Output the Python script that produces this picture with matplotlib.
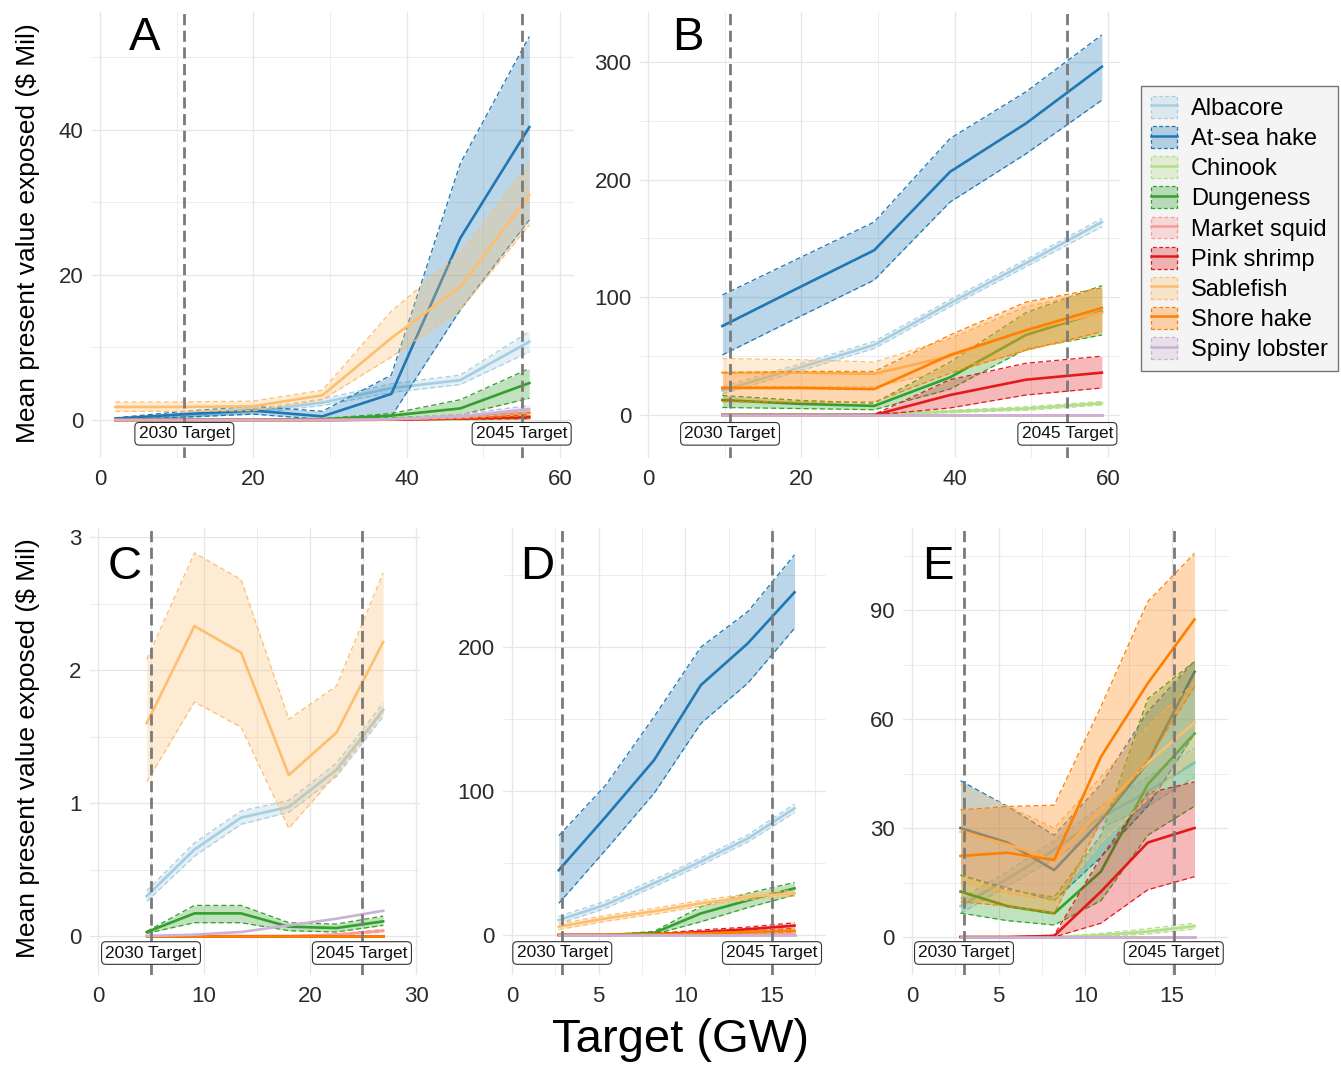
import matplotlib
matplotlib.use("Agg")
import matplotlib.pyplot as plt
from matplotlib.patches import Patch
from matplotlib.lines import Line2D
from matplotlib.colors import to_rgba
import numpy as np

plt.rcParams['font.family'] = ['Liberation Sans', 'DejaVu Sans']

species = ["Albacore", "At-sea hake", "Chinook", "Dungeness", "Market squid",
           "Pink shrimp", "Sablefish", "Shore hake", "Spiny lobster"]
colors = ["#a6cee3", "#1f78b4", "#b2df8a", "#33a02c", "#fb9a99",
          "#e31a1c", "#fdbf6f", "#ff7f00", "#cab2d6"]

# ---------------- Panel A ----------------
xA = [2, 11, 20, 29, 38, 47, 56]
A_mean = {
    "Albacore":     [0.1, 0.5, 1.2, 2.4, 4.4, 5.5, 10.8],
    "At-sea hake":  [0.2, 0.8, 1.3, 0.5, 3.6, 25.1, 40.4],
    "Chinook":      [0, 0, 0, 0, 0.05, 0.1, 0.2],
    "Dungeness":    [0, 0.02, 0.05, 0.1, 0.6, 1.6, 5.1],
    "Market squid": [0, 0, 0, 0, 0.05, 0.2, 0.5],
    "Pink shrimp":  [0, 0, 0, 0, 0.05, 0.2, 0.4],
    "Sablefish":    [1.8, 1.8, 1.9, 3.4, 11.3, 18.4, 31.0],
    "Shore hake":   [0, 0, 0, 0, 0.1, 0.4, 1.0],
    "Spiny lobster":[0, 0, 0, 0, 0.1, 0.5, 1.5],
}
A_upper = {
    "Albacore":     [0.2, 0.7, 1.5, 2.9, 5.0, 6.2, 12.2],
    "At-sea hake":  [0.3, 1.2, 1.9, 1.2, 6.2, 35.4, 52.9],
    "Chinook":      [0, 0, 0, 0, 0.1, 0.2, 0.3],
    "Dungeness":    [0, 0.05, 0.1, 0.2, 0.9, 2.8, 7.1],
    "Market squid": [0, 0, 0, 0, 0.1, 0.3, 0.8],
    "Pink shrimp":  [0, 0, 0, 0, 0.1, 0.3, 0.7],
    "Sablefish":    [2.5, 2.5, 2.6, 4.1, 15.0, 23.0, 35.4],
    "Shore hake":   [0, 0, 0, 0, 0.2, 0.6, 1.4],
    "Spiny lobster":[0, 0, 0, 0, 0.2, 0.8, 2.0],
}
A_lower = {
    "Albacore":     [0.05, 0.3, 0.9, 2.0, 3.8, 4.9, 9.4],
    "At-sea hake":  [0.05, 0.4, 0.8, 0.1, 0.5, 15.2, 27.6],
    "Chinook":      [0, 0, 0, 0, 0, 0.05, 0.1],
    "Dungeness":    [0, 0, 0.02, 0.05, 0.3, 0.7, 3.0],
    "Market squid": [0, 0, 0, 0, 0, 0.1, 0.3],
    "Pink shrimp":  [0, 0, 0, 0, 0, 0.1, 0.2],
    "Sablefish":    [1.2, 1.2, 1.3, 2.8, 8.7, 15.2, 26.9],
    "Shore hake":   [0, 0, 0, 0, 0.05, 0.2, 0.6],
    "Spiny lobster":[0, 0, 0, 0, 0.05, 0.3, 1.0],
}

# ---------------- Panel B ----------------
xB = [9.7, 19.6, 29.5, 39.4, 49.3, 59.2]
B_mean = {
    "Albacore":     [21, 40, 59.5, 95, 129, 164],
    "At-sea hake":  [75.6, 108, 140, 206.7, 247.8, 296],
    "Chinook":      [0.5, 0.5, 0.5, 3, 5.5, 10],
    "Dungeness":    [12.7, 9.5, 7.7, 32, 68, 88],
    "Market squid": [0, 0, 0, 0, 0, 0],
    "Pink shrimp":  [0, 0, 0, 17, 30, 36],
    "Sablefish":    [36, 36, 35, 50, 72, 87],
    "Shore hake":   [23, 23, 22, 51, 72, 91],
    "Spiny lobster":[0, 0, 0, 0, 0, 0],
}
B_upper = {
    "Albacore":     [24, 43, 62.5, 98, 132, 167],
    "At-sea hake":  [102, 133, 164, 235, 274.7, 323],
    "Chinook":      [1, 1, 1, 4, 7, 11.5],
    "Dungeness":    [16.6, 12.5, 10, 45, 87, 110],
    "Market squid": [0, 0, 0, 0, 0, 0],
    "Pink shrimp":  [0, 0, 0.5, 30, 44, 50],
    "Sablefish":    [48, 47, 45, 65, 92, 106],
    "Shore hake":   [36, 37, 37, 68, 96, 108],
    "Spiny lobster":[0, 0, 0, 0, 0, 0],
}
B_lower = {
    "Albacore":     [18, 37, 56.5, 92, 126, 160],
    "At-sea hake":  [51, 83, 114.7, 181, 222, 267.6],
    "Chinook":      [0, 0, 0, 2, 4, 8.5],
    "Dungeness":    [6.4, 5.5, 4.5, 22, 56, 68],
    "Market squid": [0, 0, 0, 0, 0, 0],
    "Pink shrimp":  [0, 0, 0, 6, 17, 23],
    "Sablefish":    [24, 24, 24, 38, 55, 70],
    "Shore hake":   [11.3, 11, 11, 35.6, 55, 70.8],
    "Spiny lobster":[0, 0, 0, 0, 0, 0],
}

# ---------------- Panel C ----------------
xC = [4.6, 9.1, 13.5, 18.0, 22.5, 26.9]
C_mean = {
    "Albacore":     [0.30, 0.65, 0.89, 0.97, 1.25, 1.70],
    "At-sea hake":  [0, 0, 0, 0, 0, 0],
    "Chinook":      [0, 0, 0, 0, 0, 0],
    "Dungeness":    [0.03, 0.17, 0.17, 0.07, 0.06, 0.11],
    "Market squid": [0, 0, 0, 0, 0.01, 0.04],
    "Pink shrimp":  [0, 0, 0, 0, 0, 0],
    "Sablefish":    [1.60, 2.33, 2.13, 1.21, 1.53, 2.21],
    "Shore hake":   [0, 0, 0, 0, 0, 0],
    "Spiny lobster":[0, 0.01, 0.03, 0.08, 0.13, 0.19],
}
C_upper = {
    "Albacore":     [0.34, 0.70, 0.94, 1.02, 1.30, 1.75],
    "At-sea hake":  [0, 0, 0, 0, 0, 0],
    "Chinook":      [0, 0, 0, 0, 0, 0],
    "Dungeness":    [0.035, 0.23, 0.23, 0.10, 0.09, 0.15],
    "Market squid": [0, 0, 0, 0, 0.015, 0.05],
    "Pink shrimp":  [0, 0, 0, 0, 0, 0],
    "Sablefish":    [2.08, 2.88, 2.68, 1.63, 1.88, 2.73],
    "Shore hake":   [0, 0, 0, 0, 0, 0],
    "Spiny lobster":[0, 0.01, 0.03, 0.08, 0.13, 0.19],
}
C_lower = {
    "Albacore":     [0.26, 0.60, 0.84, 0.93, 1.20, 1.65],
    "At-sea hake":  [0, 0, 0, 0, 0, 0],
    "Chinook":      [0, 0, 0, 0, 0, 0],
    "Dungeness":    [0.02, 0.10, 0.10, 0.04, 0.03, 0.08],
    "Market squid": [0, 0, 0, 0, 0.005, 0.03],
    "Pink shrimp":  [0, 0, 0, 0, 0, 0],
    "Sablefish":    [1.16, 1.76, 1.57, 0.81, 1.22, 1.68],
    "Shore hake":   [0, 0, 0, 0, 0, 0],
    "Spiny lobster":[0, 0.01, 0.03, 0.08, 0.13, 0.19],
}

# ---------------- Panel D ----------------
xD = [2.7, 5.4, 8.2, 10.9, 13.6, 16.3]
D_mean = {
    "Albacore":     [10.4, 21, 36, 51, 67, 88],
    "At-sea hake":  [45, 82, 121.5, 173.6, 202.5, 238],
    "Chinook":      [0, 0, 0, 0, 0, 0],
    "Dungeness":    [0, 0, 1.5, 15, 24, 32.4],
    "Market squid": [0, 0, 0, 0, 0.5, 1],
    "Pink shrimp":  [0, 0, 0.5, 2, 4, 6.5],
    "Sablefish":    [5.8, 11.5, 16.5, 22, 26.5, 29],
    "Shore hake":   [0, 0.2, 0.5, 1, 2, 3],
    "Spiny lobster":[0, 0, 0, 0, 0, 0],
}
D_upper = {
    "Albacore":     [12.9, 23.5, 38.5, 53.5, 69.5, 91],
    "At-sea hake":  [69, 104, 151.6, 200, 224.5, 264],
    "Chinook":      [0, 0, 0, 0, 0, 0],
    "Dungeness":    [0, 0, 2.5, 19.7, 29, 36.5],
    "Market squid": [0, 0, 0, 0, 1, 1.5],
    "Pink shrimp":  [0, 0, 1, 3.5, 5.5, 8.5],
    "Sablefish":    [7.8, 13.5, 18.5, 24, 28.5, 31],
    "Shore hake":   [0, 0.4, 0.8, 1.5, 2.7, 4],
    "Spiny lobster":[0, 0, 0, 0, 0, 0],
}
D_lower = {
    "Albacore":     [7.9, 18.5, 33.5, 48.5, 64.5, 85],
    "At-sea hake":  [22, 59, 98.4, 147, 174.8, 213],
    "Chinook":      [0, 0, 0, 0, 0, 0],
    "Dungeness":    [0, 0, 0.5, 9.2, 19, 27.8],
    "Market squid": [0, 0, 0, 0, 0.2, 0.5],
    "Pink shrimp":  [0, 0, 0.2, 1, 2.5, 4.5],
    "Sablefish":    [3.8, 9.5, 14.5, 20, 24.5, 27],
    "Shore hake":   [0, 0.1, 0.3, 0.6, 1.4, 2.2],
    "Spiny lobster":[0, 0, 0, 0, 0, 0],
}

# ---------------- Panel E ----------------
xE = [2.8, 5.5, 8.2, 10.9, 13.6, 16.3]
E_mean = {
    "Albacore":     [8.5, 16, 24, 33, 40, 48],
    "At-sea hake":  [30, 26, 18.4, 32, 48, 73],
    "Chinook":      [0, 0, 0, 0.5, 1.5, 3],
    "Dungeness":    [12.5, 8.5, 6.5, 18, 42, 56],
    "Market squid": [0, 0, 0, 0, 0, 0],
    "Pink shrimp":  [0, 0, 0.3, 12.5, 26, 30],
    "Sablefish":    [29, 25.5, 21, 35, 48, 59],
    "Shore hake":   [22.3, 23.2, 21.2, 49.6, 69.8, 87.4],
    "Spiny lobster":[0, 0, 0, 0, 0, 0],
}
E_upper = {
    "Albacore":     [10.5, 18, 26.5, 36, 44, 52],
    "At-sea hake":  [43, 36, 28, 42, 62, 76],
    "Chinook":      [0, 0, 0, 1, 2.3, 3.8],
    "Dungeness":    [17, 13, 11, 28, 65.6, 75.8],
    "Market squid": [0, 0, 0, 0, 0, 0],
    "Pink shrimp":  [0, 0, 0.5, 22, 39.6, 42.7],
    "Sablefish":    [42, 36, 30, 44, 58, 70],
    "Shore hake":   [35, 35.9, 36.3, 63.4, 92.3, 105.6],
    "Spiny lobster":[0, 0, 0, 0, 0, 0],
}
E_lower = {
    "Albacore":     [6.5, 14, 21.5, 30, 36, 44],
    "At-sea hake":  [17, 13.5, 10, 22, 36, 56],
    "Chinook":      [0, 0, 0, 0.2, 0.8, 2.2],
    "Dungeness":    [6.6, 4.5, 3.3, 10, 28, 36],
    "Market squid": [0, 0, 0, 0, 0, 0],
    "Pink shrimp":  [0, 0, 0, 3.8, 13, 16.6],
    "Sablefish":    [15, 12, 10, 26, 38, 49.6],
    "Shore hake":   [9.7, 8.5, 6.5, 32, 48.7, 68.9],
    "Spiny lobster":[0, 0, 0, 0, 0, 0],
}

# target lines and tick settings
targets = {"A": (11, 55), "B": (10.7, 54.7), "C": (5.0, 24.9), "D": (2.9, 15.0), "E": (3.0, 15.1)}
label_y = {"A": -1.9, "B": -16, "C": -0.128, "D": -12.5, "E": -4.4}
xticks = {"A": [0, 20, 40, 60], "B": [0, 20, 40, 60], "C": [0, 10, 20, 30],
          "D": [0, 5, 10, 15], "E": [0, 5, 10, 15]}
yticks = {"A": [0, 20, 40], "B": [0, 100, 200, 300], "C": [0, 1, 2, 3],
          "D": [0, 100, 200], "E": [0, 30, 60, 90]}

W, H = 1341, 1065
fig = plt.figure(figsize=(W / 100, H / 100), dpi=100)

# layout: pixel boxes (L, R, T, B) and calibration pairs (pixel, value)
layout = {
    "A": ((92, 574, 12, 458), ((100, 0), (560, 60)), ((420, 0), (130, 40))),
    "B": ((640, 1120, 12, 458), ((648, 0), (1108, 60)), ((415, 0), (62, 300))),
    "C": ((90, 420, 528, 975), ((98, 0), (416, 30)), ((936, 0), (537, 3))),
    "D": ((503, 826, 528, 975), ((512, 0), (772, 15)), ((935, 0), (647, 200))),
    "E": ((903, 1228, 528, 975), ((912, 0), (1172, 15)), ((937, 0), (610, 90))),
}
panels = {
    "A": (xA, A_mean, A_upper, A_lower),
    "B": (xB, B_mean, B_upper, B_lower),
    "C": (xC, C_mean, C_upper, C_lower),
    "D": (xD, D_mean, D_upper, D_lower),
    "E": (xE, E_mean, E_upper, E_lower),
}
letter_pos = {"A": (145, 38), "B": (688, 38), "C": (125, 567), "D": (537, 567), "E": (938, 567)}

def limits(lo_px, hi_px, cal):
    (p0, v0), (p1, v1) = cal
    s = (p1 - p0) / (v1 - v0)
    return v0 + (lo_px - p0) / s, v0 + (hi_px - p0) / s

tick_color = "#2b2b2b"
grid_color = "#e6e6e6"
edge_dash = (0, (4, 2.5))

for key, (box, xcal, ycal) in layout.items():
    L, R, T, B = box
    ax = fig.add_axes([L / W, 1 - B / H, (R - L) / W, (B - T) / H])
    xlo, xhi = limits(L, R, xcal)
    ylo, yhi = limits(B, T, ycal)
    for sp in ax.spines.values():
        sp.set_visible(False)
    xt = xticks[key]
    yt = yticks[key]
    dx = (xt[1] - xt[0]) / 2
    dy = (yt[1] - yt[0]) / 2
    ax.set_xticks(xt)
    ax.set_yticks(yt)
    xm = np.arange(xt[0] - dx, xhi, 2 * dx)
    ym = np.arange(yt[0] - dy, yhi, 2 * dy)
    ax.set_xticks(xm[(xm >= xlo) & (xm <= xhi)], minor=True)
    ax.set_yticks(ym[(ym >= ylo) & (ym <= yhi)], minor=True)
    ax.tick_params(which="both", length=0, labelsize=16, labelcolor=tick_color)
    ax.tick_params(axis="x", pad=8)
    ax.tick_params(axis="y", pad=6)
    ax.grid(True, which="major", color=grid_color, lw=0.9)
    ax.grid(True, which="minor", color=grid_color, lw=0.5)
    ax.set_axisbelow(True)

    x, mean, up, lo = panels[key]
    z = 2.0
    for sp_name, c in zip(species, colors):
        ax.fill_between(x, lo[sp_name], up[sp_name], color=c, alpha=0.3, lw=0, zorder=z)
        ax.plot(x, up[sp_name], color=c, lw=0.9, ls=edge_dash, zorder=z + 0.1)
        ax.plot(x, lo[sp_name], color=c, lw=0.9, ls=edge_dash, zorder=z + 0.1)
        ax.plot(x, mean[sp_name], color=c, lw=1.9, zorder=z + 0.2)
        z += 1

    for tx, lab in zip(targets[key], ["2030 Target", "2045 Target"]):
        ax.axvline(tx, color="#7a7a7a", lw=2, ls=(0, (4, 2)), zorder=20)
        ax.text(tx, label_y[key], lab, ha="center", va="center", fontsize=12.5,
                color="#111111", zorder=30,
                bbox=dict(boxstyle="round,pad=0.22,rounding_size=0.25",
                          fc="white", ec="#333333", lw=0.8))

    ax.set_xlim(xlo, xhi)
    ax.set_ylim(ylo, yhi)

    lx, ly = letter_pos[key]
    fig.text(lx / W, 1 - ly / H, key, ha="center", va="center", fontsize=34)

fig.text(28 / W, 1 - 233 / H, "Mean present value exposed ($ Mil)", rotation=90,
         ha="center", va="center", fontsize=19)
fig.text(28 / W, 1 - 748 / H, "Mean present value exposed ($ Mil)", rotation=90,
         ha="center", va="center", fontsize=19)
fig.text(680 / W, 1 - 1040 / H, "Target (GW)", ha="center", va="center", fontsize=34)

handles = []
for c in colors:
    p = Patch(facecolor=to_rgba(c, 0.3), edgecolor=c, linestyle=(0, (3, 2)), lw=0.9)
    l = Line2D([], [], color=c, lw=1.8)
    handles.append((p, l))
leg = fig.legend(handles, species, loc="upper left",
                 bbox_to_anchor=(1141 / W, 1 - 86 / H), borderaxespad=0,
                 fontsize=17, frameon=True, fancybox=False, handlelength=1.1,
                 handleheight=1.05, labelspacing=0.26, handletextpad=0.6,
                 borderpad=0.42)
leg.get_frame().set_facecolor("#f2f2f2")
leg.get_frame().set_edgecolor("#555555")
leg.get_frame().set_linewidth(1.0)

fig.savefig("out.png", dpi=100)
